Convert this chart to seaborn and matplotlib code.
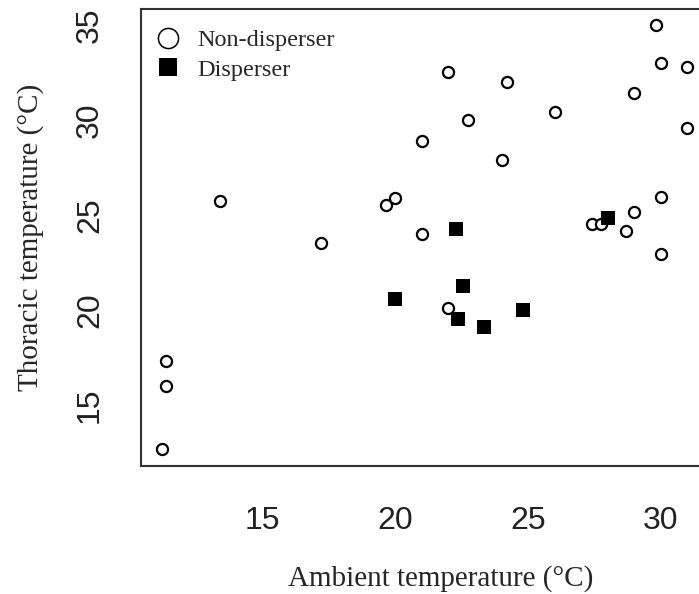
import matplotlib
matplotlib.use("Agg")
import matplotlib.pyplot as plt
from matplotlib.lines import Line2D
import seaborn as sns
import pandas as pd

# ---- data ----
non_x = [11.2, 11.35, 11.35, 13.4, 17.2, 19.65, 20.0, 21.0, 21.0, 22.0, 22.0, 22.75,
         24.0, 24.2, 26.0, 27.4, 27.75, 28.7, 29.0, 29.0, 29.8, 30.0, 30.0, 30.0,
         31.0, 31.0]
non_y = [12.7, 16.0, 17.3, 25.75, 23.5, 25.55, 25.9, 24.0, 28.9, 32.55, 20.1, 30.0,
         27.9, 32.0, 30.4, 24.55, 24.55, 24.15, 25.15, 31.4, 35.0, 33.0, 25.95, 22.95,
         32.8, 29.6]
disp_x = [20.0, 22.3, 22.55, 22.35, 23.35, 24.8, 28.0]
disp_y = [20.6, 24.25, 21.25, 19.5, 19.1, 20.0, 24.85]

groups = ["Non-disperser", "Disperser"]
x_ticks = [15, 20, 25, 30]
y_ticks = [15, 20, 25, 30, 35]
x_label = "Ambient temperature (°C)"
y_label = "Thoracic temperature (°C)"

df = pd.DataFrame({
    "ambient": non_x + disp_x,
    "thoracic": non_y + disp_y,
    "group": [groups[0]] * len(non_x) + [groups[1]] * len(disp_x),
})

sns.set_style("white")
plt.rcParams["font.family"] = ["Liberation Sans", "DejaVu Sans"]

W, H = 699, 594
fig = plt.figure(figsize=(W / 100, H / 100), dpi=100)
ax = fig.add_axes([141 / W, (H - 466) / H, 599.5 / W, (466 - 9) / H])

sns.scatterplot(data=df[df.group == groups[0]], x="ambient", y="thoracic",
                marker="o", s=64, facecolor="white", edgecolor="black",
                linewidth=1.6, ax=ax, legend=False, zorder=3)
sns.scatterplot(data=df[df.group == groups[1]], x="ambient", y="thoracic",
                marker="s", s=88, color="black", edgecolor="black",
                linewidth=0, ax=ax, legend=False, zorder=4)

ax.set_xlim(10.42, 33.0)
ax.set_ylim(11.79, 35.84)
ax.set_xticks(x_ticks)
ax.set_yticks(y_ticks)
ax.set_xticklabels([str(t) for t in x_ticks])
ax.set_yticklabels([str(t) for t in y_ticks])

for sp in ax.spines.values():
    sp.set_visible(True)
    sp.set_color("#333333")
    sp.set_linewidth(1.5)

ax.tick_params(axis="both", direction="out", length=13, width=1.3, color="#333333",
               labelsize=23, labelcolor="#222222")
ax.tick_params(axis="x", pad=16)
ax.tick_params(axis="y", labelrotation=90, pad=13)
for lab in ax.get_yticklabels():
    lab.set_va("center")

serif = {"family": "Liberation Serif", "size": 21}
ax.set_xlabel(x_label, fontdict=serif, labelpad=21)
ax.set_ylabel(y_label, fontdict=serif, labelpad=22)

handles = [
    Line2D([], [], marker="o", linestyle="none", markersize=14.5,
           markerfacecolor="white", markeredgecolor="black", markeredgewidth=1.1),
    Line2D([], [], marker="s", linestyle="none", markersize=13,
           markerfacecolor="black", markeredgecolor="black", markeredgewidth=0),
]
ax.legend(handles, groups, loc="upper left", bbox_to_anchor=(156 / W, (H - 29) / H),
          bbox_transform=fig.transFigure, frameon=False,
          prop={"family": "Liberation Serif", "size": 17.5},
          handlelength=1.0, handletextpad=0.7, borderpad=0, borderaxespad=0,
          labelspacing=0.31)

fig.savefig("out.png", dpi=100)
